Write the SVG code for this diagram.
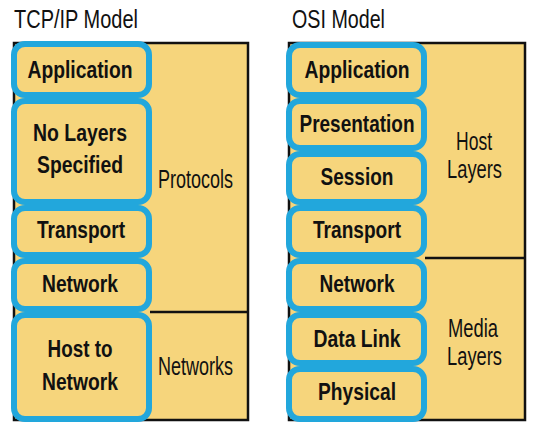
<svg xmlns="http://www.w3.org/2000/svg" width="538" height="433" viewBox="0 0 538 433">
<style>
.panel{fill:#F6D57C;stroke:#111;stroke-width:2.5}
.div{stroke:#111;stroke-width:2.5;fill:none}
.layer{fill:#F6D57C;stroke:#22A7DC;stroke-width:6}
text{font-family:"Liberation Sans Narrow","Liberation Sans",Arial,sans-serif;fill:#111}
.t{font-size:25px}
.b{font-size:24px;font-weight:bold;text-anchor:middle}
.r{font-size:25px}
</style>
<rect width="538" height="433" fill="#fff"/>
<text class="t" x="14" y="28" textLength="124" lengthAdjust="spacingAndGlyphs">TCP/IP Model</text>
<text class="t" x="292" y="28" textLength="93" lengthAdjust="spacingAndGlyphs">OSI Model</text>

<g id="tcpip-panel">
<rect class="panel" x="14" y="43" width="234" height="377"/>
<line class="div" x1="150" y1="312" x2="248" y2="312"/>
<text class="r" x="158" y="188" textLength="75" lengthAdjust="spacingAndGlyphs">Protocols</text>
<text class="r" x="158" y="375" textLength="75" lengthAdjust="spacingAndGlyphs">Networks</text>
</g>
<g id="osi-panel">
<rect class="panel" x="289" y="43" width="236" height="377"/>
<line class="div" x1="425" y1="258" x2="525" y2="258"/>
<text class="r" x="456" y="150" textLength="36" lengthAdjust="spacingAndGlyphs">Host</text>
<text class="r" x="447" y="178" textLength="55" lengthAdjust="spacingAndGlyphs">Layers</text>
<text class="r" x="448" y="337" textLength="50" lengthAdjust="spacingAndGlyphs">Media</text>
<text class="r" x="447" y="365" textLength="55" lengthAdjust="spacingAndGlyphs">Layers</text>
</g>

<g id="tcp-application"><rect class="layer" x="14" y="44" width="135" height="51" rx="11"/>
<text class="b" x="80" y="78" textLength="105" lengthAdjust="spacingAndGlyphs">Application</text></g>
<g id="tcp-nolayers"><rect class="layer" x="14" y="101" width="135" height="101" rx="11"/>
<text class="b" x="80" y="141" textLength="94" lengthAdjust="spacingAndGlyphs">No Layers</text>
<text class="b" x="80" y="173" textLength="86" lengthAdjust="spacingAndGlyphs">Specified</text></g>
<g id="tcp-transport"><rect class="layer" x="14" y="208" width="135" height="47" rx="11"/>
<text class="b" x="81" y="238" textLength="88" lengthAdjust="spacingAndGlyphs">Transport</text></g>
<g id="tcp-network"><rect class="layer" x="14" y="261" width="135" height="48" rx="11"/>
<text class="b" x="80" y="292" textLength="76" lengthAdjust="spacingAndGlyphs">Network</text></g>
<g id="tcp-hosttonetwork"><rect class="layer" x="14" y="315" width="135" height="104" rx="11"/>
<text class="b" x="80" y="357" textLength="65" lengthAdjust="spacingAndGlyphs">Host to</text>
<text class="b" x="80" y="390" textLength="76" lengthAdjust="spacingAndGlyphs">Network</text></g>

<g id="osi-application"><rect class="layer" x="289" y="45" width="135" height="50" rx="11"/>
<text class="b" x="357" y="78" textLength="105" lengthAdjust="spacingAndGlyphs">Application</text></g>
<g id="osi-presentation"><rect class="layer" x="289" y="101" width="135" height="47" rx="11"/>
<text class="b" x="357" y="132" textLength="115" lengthAdjust="spacingAndGlyphs">Presentation</text></g>
<g id="osi-session"><rect class="layer" x="289" y="154" width="135" height="48" rx="11"/>
<text class="b" x="357" y="185" textLength="73" lengthAdjust="spacingAndGlyphs">Session</text></g>
<g id="osi-transport"><rect class="layer" x="289" y="208" width="135" height="47" rx="11"/>
<text class="b" x="357" y="238" textLength="88" lengthAdjust="spacingAndGlyphs">Transport</text></g>
<g id="osi-network"><rect class="layer" x="289" y="261" width="135" height="48" rx="11"/>
<text class="b" x="357" y="292" textLength="75" lengthAdjust="spacingAndGlyphs">Network</text></g>
<g id="osi-datalink"><rect class="layer" x="289" y="315" width="135" height="48" rx="11"/>
<text class="b" x="357" y="347" textLength="87" lengthAdjust="spacingAndGlyphs">Data Link</text></g>
<g id="osi-physical"><rect class="layer" x="289" y="369" width="135" height="50" rx="11"/>
<text class="b" x="357" y="400" textLength="78" lengthAdjust="spacingAndGlyphs">Physical</text></g>

<g id="connectors"></g>
</svg>
